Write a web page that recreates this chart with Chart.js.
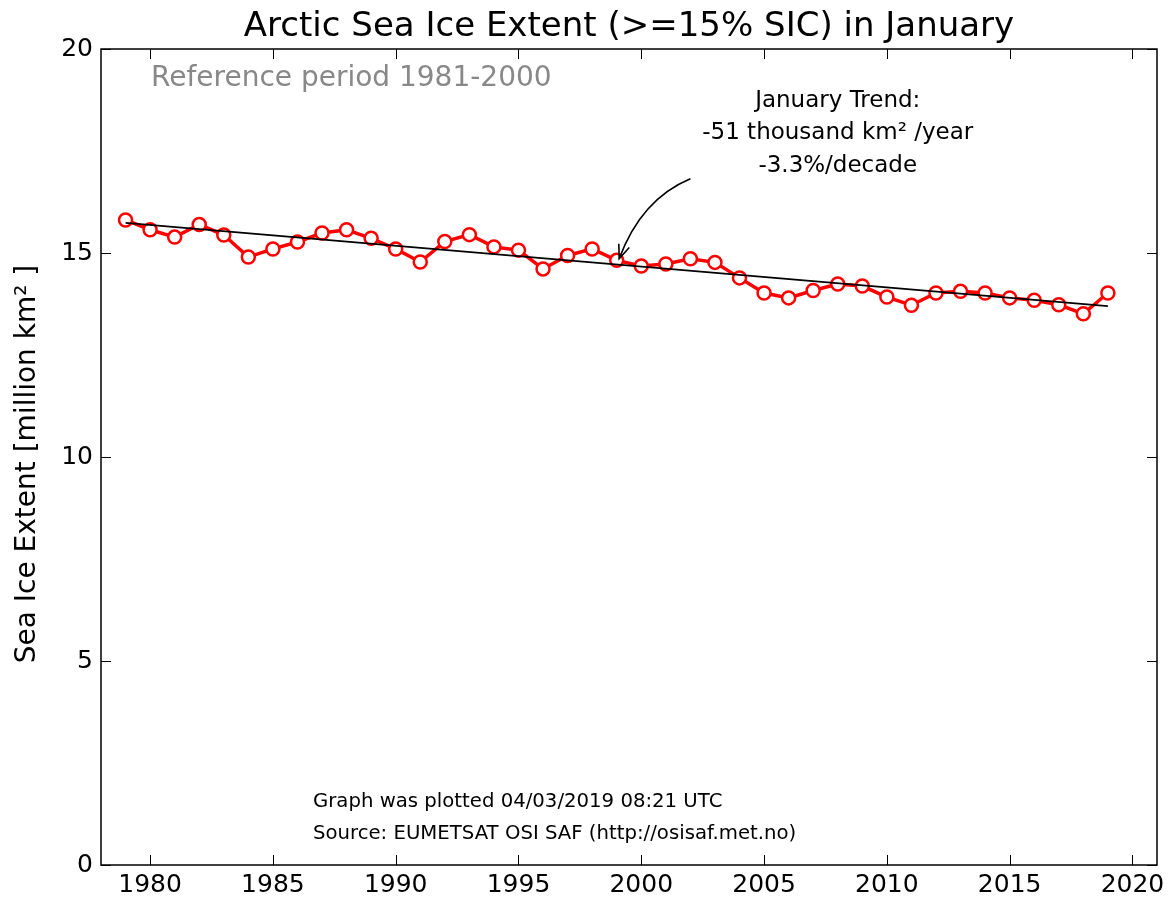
<!DOCTYPE html>
<html>
<head>
<meta charset="utf-8">
<title>Arctic Sea Ice Extent in January</title>
<script src="https://cdn.jsdelivr.net/npm/chart.js@4/dist/chart.umd.min.js"></script>
<style>
  html, body { margin: 0; padding: 0; background: #fff; }
  #wrap { width: 1173px; height: 901px; }
</style>
</head>
<body>
<div id="wrap"><canvas id="chart" width="1173" height="901"></canvas></div>
<script>
// January extent, million km2
const years = [1979, 1980, 1981, 1982, 1983, 1984, 1985, 1986, 1987, 1988,
               1989, 1990, 1991, 1992, 1993, 1994, 1995, 1996, 1997, 1998,
               1999, 2000, 2001, 2002, 2003, 2004, 2005, 2006, 2007, 2008,
               2009, 2010, 2011, 2012, 2013, 2014, 2015, 2016, 2017, 2018, 2019];
const extent = [15.81, 15.57, 15.39, 15.70, 15.44, 14.90, 15.10, 15.27, 15.49, 15.57,
                15.36, 15.10, 14.78, 15.28, 15.45, 15.15, 15.07, 14.61, 14.94, 15.10,
                14.82, 14.68, 14.73, 14.86, 14.77, 14.39, 14.02, 13.90, 14.08, 14.24,
                14.19, 13.92, 13.72, 14.02, 14.06, 14.02, 13.90, 13.84, 13.73, 13.51, 14.02];
// linear trend end points
const trendYears = [1979, 2019];
const trendValues = [15.74, 13.70];

const xTicks = [1980, 1985, 1990, 1995, 2000, 2005, 2010, 2015, 2020];
const yTicks = [0, 5, 10, 15, 20];

const titleText = 'Arctic Sea Ice Extent (>=15% SIC) in January';
const yLabel = 'Sea Ice Extent [million km\u00B2 ]';
const refText = 'Reference period 1981-2000';
const trendLines = ['January Trend:', '-51 thousand km\u00B2 /year', '-3.3%/decade'];
const footLines = ['Graph was plotted 04/03/2019 08:21 UTC', 'Source: EUMETSAT OSI SAF (http://osisaf.met.no)'];

const FONT = '"DejaVu Sans", sans-serif';

const decorations = {
    id: 'decorations',
    afterDatasetsDraw(chart) {
        const ctx = chart.ctx;
        const a = chart.chartArea;
        const xs = chart.scales.x, ys = chart.scales.y;
        ctx.save();

        // frame
        ctx.strokeStyle = '#000';
        ctx.lineWidth = 1.5;
        ctx.strokeRect(a.left, a.top, a.right - a.left, a.bottom - a.top);

        // inward ticks on all sides
        ctx.lineWidth = 1;
        ctx.beginPath();
        xTicks.forEach(t => {
            const px = Math.round(xs.getPixelForValue(t)) + 0.5;
            ctx.moveTo(px, a.bottom); ctx.lineTo(px, a.bottom - 10);
            ctx.moveTo(px, a.top); ctx.lineTo(px, a.top + 10);
        });
        yTicks.forEach(t => {
            const py = Math.round(ys.getPixelForValue(t)) + 0.5;
            ctx.moveTo(a.left, py); ctx.lineTo(a.left + 10, py);
            ctx.moveTo(a.right, py); ctx.lineTo(a.right - 10, py);
        });
        ctx.stroke();

        // title
        ctx.fillStyle = '#000';
        ctx.font = '34px ' + FONT;
        ctx.textAlign = 'center';
        ctx.textBaseline = 'middle';
        ctx.fillText(titleText, (a.left + a.right) / 2, 27);

        // y axis label
        ctx.save();
        ctx.translate(28, 464);
        ctx.rotate(-Math.PI / 2);
        ctx.font = '28px ' + FONT;
        ctx.fillText(yLabel, 0, 0);
        ctx.restore();

        // reference period
        ctx.fillStyle = '#888';
        ctx.font = '28px ' + FONT;
        ctx.textAlign = 'left';
        ctx.fillText(refText, a.left + 50, 79);

        // trend annotation
        ctx.fillStyle = '#000';
        ctx.font = '23px ' + FONT;
        ctx.textAlign = 'center';
        const tx = xs.getPixelForValue(2008.0);
        trendLines.forEach((s, i) => ctx.fillText(s, tx, ys.getPixelForValue(18.73 - i * 0.8)));

        // curved arrow pointing at 1999
        const x0 = xs.getPixelForValue(2002.0), y0 = ys.getPixelForValue(16.82);
        const cx = xs.getPixelForValue(2000.0), cy = ys.getPixelForValue(16.32);
        const x1 = xs.getPixelForValue(1999.1), y1 = ys.getPixelForValue(14.86);
        ctx.strokeStyle = '#000';
        ctx.lineWidth = 1.6;
        ctx.beginPath();
        ctx.moveTo(x0, y0);
        ctx.quadraticCurveTo(cx, cy, x1, y1);
        ctx.stroke();
        const ang = Math.atan2(y1 - cy, x1 - cx);
        ctx.beginPath();
        ctx.moveTo(x1 - 15 * Math.cos(ang - 0.38), y1 - 15 * Math.sin(ang - 0.38));
        ctx.lineTo(x1, y1);
        ctx.lineTo(x1 - 15 * Math.cos(ang + 0.38), y1 - 15 * Math.sin(ang + 0.38));
        ctx.stroke();

        // footer
        ctx.font = '19.7px ' + FONT;
        ctx.textAlign = 'left';
        footLines.forEach((s, i) => ctx.fillText(s, 313, 802 + i * 32));

        ctx.restore();
    }
};

new Chart(document.getElementById('chart'), {
    type: 'line',
    data: {
        datasets: [{
            label: 'January extent',
            data: years.map((y, i) => ({ x: y, y: extent[i] })),
            borderColor: '#ff0000',
            borderWidth: 3.5,
            pointRadius: 6.5,
            pointBorderWidth: 2.5,
            pointBackgroundColor: '#ffffff',
            pointBorderColor: '#ff0000',
            tension: 0,
            order: 2
        }, {
            label: 'Trend',
            data: trendYears.map((y, i) => ({ x: y, y: trendValues[i] })),
            borderColor: '#000000',
            borderWidth: 1.8,
            pointRadius: 0,
            order: 1
        }]
    },
    options: {
        responsive: false,
        animation: false,
        layout: { padding: { top: 49, right: 16, left: 0, bottom: 0 } },
        plugins: {
            legend: { display: false },
            title: { display: false },
            tooltip: { enabled: false }
        },
        scales: {
            x: {
                type: 'linear',
                min: 1978,
                max: 2021,
                afterBuildTicks: s => { s.ticks = xTicks.map(v => ({ value: v })); },
                afterFit: s => { s.height = 36; },
                grid: { display: false, drawTicks: false },
                border: { display: false },
                ticks: {
                    padding: 5,
                    color: '#000',
                    font: { family: FONT, size: 25 },
                    callback: v => String(v)
                }
            },
            y: {
                min: 0,
                max: 20,
                afterBuildTicks: s => { s.ticks = yTicks.map(v => ({ value: v })); },
                afterFit: s => { s.width = 101; },
                grid: { display: false, drawTicks: false },
                border: { display: false },
                ticks: {
                    padding: 8,
                    color: '#000',
                    font: { family: FONT, size: 25 }
                }
            }
        }
    },
    plugins: [decorations]
});
</script>
</body>
</html>
